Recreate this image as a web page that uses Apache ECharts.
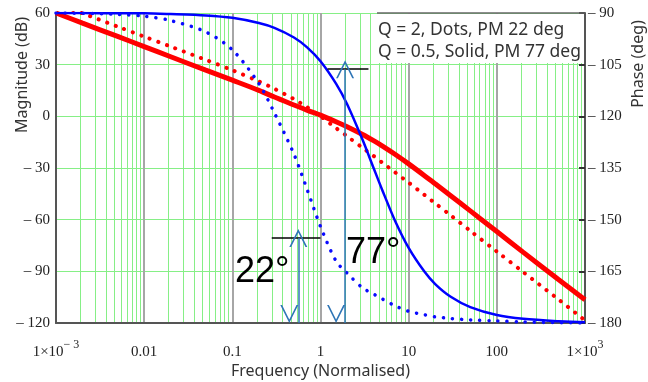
<!DOCTYPE html>
<html>
<head>
<meta charset="utf-8">
<script src="https://cdn.jsdelivr.net/npm/echarts@6/dist/echarts.min.js"></script>
<style>
    html, body {margin: 0; padding: 0; background: #fff;}
    #chart {width: 648px; height: 382px;}
</style>
</head>
<body>
<div id="chart"></div>
<script>
// normalised frequency samples
const freq = [0.001, 0.002, 0.005, 0.01, 0.02, 0.05, 0.1, 0.2, 0.3, 0.5, 0.7, 1, 1.5, 2, 3, 4, 5, 7, 10, 15, 20, 30, 50, 100, 200, 500, 1000];
// magnitude (dB), Q = 0.5 solid / Q = 2 dots
const magSolid = [60, 54.1, 46.4, 40.5, 34.6, 26.8, 21, 15.1, 11.2, 6.6, 3.6, 0.7, -3.1, -6, -10.5, -14.1, -17.1, -22, -27.6, -34.3, -39.2, -46.1, -54.9, -66.9, -79, -94.8, -106.5];
const magDots = [65.5, 59.8, 52.1, 46.3, 40.5, 32.8, 26.8, 20.3, 16, 10, 5.4, 0, -6.8, -11.5, -18.3, -23, -26.8, -32.5, -38.5, -45.5, -50.5, -57.5, -66.5, -78.5, -90.5, -106.3, -118.5];
// phase (deg)
const phaseSolid = [-90, -90, -90.1, -90.1, -90.3, -90.7, -91.4, -92.9, -94.3, -97.1, -99.9, -104, -110.5, -116.4, -126.8, -135, -141.3, -150.3, -158.2, -165, -168.7, -172.4, -175.4, -177.7, -178.8, -179.5, -179.8];
const phaseDots = [-90, -90.1, -90.4, -90.9, -92.2, -95.5, -100.7, -110.5, -119, -131, -141, -152, -162, -165.5, -169.8, -171.6, -173, -175, -176.6, -177.6, -178.2, -178.7, -179.1, -179.4, -179.7, -179.9, -180];
const xTickLabels = ['1×10{sup|− 3}', '0.01', '0.1', '1', '10', '100', '1×10{sup|3}'];
// phase margin markers: [freq, top phase, bottom phase] and [freq from, freq to, phase]
const arrow77 = [1.9, -106.3, -180];
const level77 = [1.2, 3.5, -106.3];
const arrow22 = [0.56, -155.3, -180];
const level22 = [0.28, 1.0, -155.3];

const pair = (xs, ys) => xs.map((x, i) => [x, ys[i]]);
const GREEN = '#86ef86';
const SERIF = 'Liberation Serif';
const SANS = 'Noto Sans';
const chevron = 'path://M0,10L5,0L10,10L9,10L5,2L1,10Z';

const chart = echarts.init(document.getElementById('chart'));
chart.setOption({
    animation: false,
    grid: {left: 56, right: 63, top: 13, bottom: 59, outerBoundsMode: 'none', containLabel: false},
    xAxis: {
        type: 'log', logBase: 10, min: 0.001, max: 1000,
        name: 'Frequency (Normalised)', nameLocation: 'middle', nameGap: 40, nameMoveOverlap: false,
        nameTextStyle: {fontFamily: SANS, fontSize: 16, color: '#333'},
        axisLine: {show: true, onZero: false, lineStyle: {color: '#555', width: 2}},
        axisTick: {show: false},
        axisLabel: {
            margin: 16, lineHeight: 26, fontFamily: SERIF, fontSize: 15, color: '#222',
            formatter: v => xTickLabels[Math.round(Math.log10(v)) + 3],
            rich: {sup: {fontFamily: SERIF, fontSize: 12, color: '#222', lineHeight: 14, verticalAlign: 'top'}}
        },
        splitLine: {show: true, lineStyle: {color: '#a6a6a6', width: 2}},
        minorTick: {show: false, splitNumber: 10},
        minorSplitLine: {show: true, lineStyle: {color: GREEN, width: 1}}
    },
    yAxis: [{
        type: 'value', min: -120, max: 60, interval: 30,
        axisLine: {show: true, lineStyle: {color: '#555', width: 2}},
        axisTick: {show: false},
        axisLabel: {margin: 6, fontFamily: SERIF, fontSize: 15, color: '#222',
            formatter: v => v < 0 ? '– ' + (-v) : String(v)},
        splitLine: {show: true, lineStyle: {color: GREEN, width: 1}}
    }, {
        type: 'value', position: 'right', min: -180, max: -90, interval: 15,
        axisLine: {show: true, lineStyle: {color: '#555', width: 2}},
        axisTick: {show: true, inside: true, length: 6, lineStyle: {color: '#333', width: 2}},
        axisLabel: {margin: 3, fontFamily: SERIF, fontSize: 15, color: '#222',
            formatter: v => '– ' + (-v)},
        splitLine: {show: false}
    }],
    series: [{
        name: 'Magnitude Q=0.5', type: 'line', yAxisIndex: 0, symbol: 'none', smooth: 0.3,
        data: pair(freq, magSolid),
        lineStyle: {color: '#ff0000', width: 5}
    }, {
        name: 'Magnitude Q=2', type: 'line', yAxisIndex: 0, symbol: 'none', smooth: 0.3,
        data: pair(freq, magDots),
        lineStyle: {color: '#ff0000', width: 4, type: [0.1, 9], cap: 'round'}
    }, {
        name: 'Phase Q=0.5', type: 'line', yAxisIndex: 1, symbol: 'none', smooth: 0.3,
        data: pair(freq, phaseSolid),
        lineStyle: {color: '#0000ff', width: 2.5}
    }, {
        name: 'Phase Q=2', type: 'line', yAxisIndex: 1, symbol: 'none', smooth: 0.3,
        data: pair(freq, phaseDots),
        lineStyle: {color: '#0a0aff', width: 3.5, type: [0.1, 9], cap: 'round'}
    }, {
        name: 'margins', type: 'line', yAxisIndex: 1, data: [],
        markLine: {
            silent: true, animation: false,
            symbol: ['none', 'none'], symbolOffset: [0, '50%'],
            label: {show: false},
            data: [
                [{coord: [level77[0], level77[2]], lineStyle: {color: '#000', width: 1.5, type: 'solid'}},
                 {coord: [level77[1], level77[2]]}],
                [{coord: [level22[0], level22[2]], lineStyle: {color: '#000', width: 1.5, type: 'solid'}},
                 {coord: [level22[1], level22[2]]}],
                [{coord: [arrow77[0], arrow77[1]], symbol: chevron, symbolSize: [18, 18],
                  lineStyle: {color: '#2e75b6', width: 1.5, type: 'solid'}},
                 {coord: [arrow77[0], arrow77[2]], symbol: chevron, symbolSize: [18, 18]}],
                [{coord: [arrow22[0], arrow22[1]], symbol: chevron, symbolSize: [18, 18],
                  lineStyle: {color: '#2e75b6', width: 1.5, type: 'solid'}},
                 {coord: [arrow22[0], arrow22[2]], symbol: chevron, symbolSize: [18, 18]}]
            ]
        }
    }],
    graphic: [
        {type: 'rect', z: 100, shape: {x: 377, y: 14, width: 207, height: 49}, style: {fill: '#fff'}},
        {type: 'line', z: 100, shape: {x1: 377, y1: 13, x2: 585, y2: 13}, style: {stroke: '#666', lineWidth: 1.5}},
        {type: 'text', z: 101, x: 378, y: 30, style: {text: 'Q = 2, Dots, PM 22 deg', font: '17.5px "Noto Sans"', fill: '#333', verticalAlign: 'middle'}},
        {type: 'text', z: 101, x: 378, y: 52, style: {text: 'Q = 0.5, Solid, PM 77 deg', font: '17.5px "Noto Sans"', fill: '#333', verticalAlign: 'middle'}},
        {type: 'text', z: 101, x: 22, y: 75, rotation: Math.PI / 2, style: {text: 'Magnitude (dB)', font: '16px "Noto Sans"', fill: '#333', align: 'center', verticalAlign: 'middle'}},
        {type: 'text', z: 101, x: 638, y: 64, rotation: Math.PI / 2, style: {text: 'Phase (deg)', font: '16px "Noto Sans"', fill: '#333', align: 'center', verticalAlign: 'middle'}},
        {type: 'text', z: 101, x: 235, y: 272, style: {text: '22°', font: '36px "Liberation Sans"', fill: '#000', verticalAlign: 'middle'}},
        {type: 'text', z: 101, x: 346, y: 253, style: {text: '77°', font: '36px "Liberation Sans"', fill: '#000', verticalAlign: 'middle'}}
    ]
});
</script>
</body>
</html>
